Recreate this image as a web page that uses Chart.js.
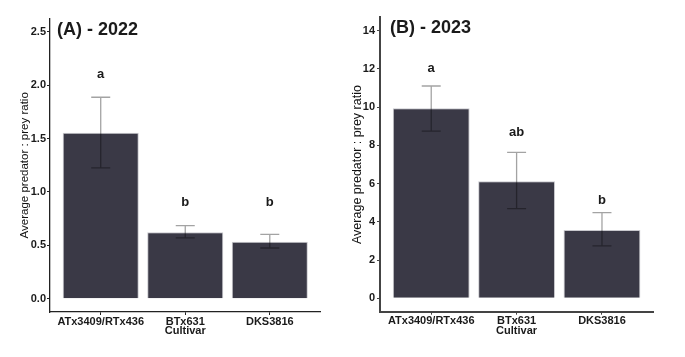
<!DOCTYPE html>
<html><head><meta charset="utf-8">
<script src="https://cdn.jsdelivr.net/npm/chart.js@4.4.0/dist/chart.umd.min.js"></script>
<style>
html,body{margin:0;padding:0;background:#fff;width:685px;height:357px;overflow:hidden}
canvas{position:absolute;top:0}
#cA{left:0}
#cB{left:340px}
</style></head>
<body>
<canvas id="cA" width="340" height="357"></canvas>
<canvas id="cB" width="345" height="357"></canvas>
<script>
const categories = ['ATx3409/RTx436', 'BTx631', 'DKS3816'];
const xTitle = 'Cultivar';
const yTitle = 'Average predator : prey ratio';

const titleA = '(A) - 2022';
const meanA = [1.555, 0.622, 0.534];
const lowA = [1.225, 0.569, 0.475];
const highA = [1.888, 0.684, 0.603];
const lettersA = ['a', 'b', 'b'];
const letterYA = [2.10, 0.90, 0.90];
const tickValsA = [0, 0.5, 1, 1.5, 2, 2.5];
const tickLabelsA = ['0.0', '0.5', '1.0', '1.5', '2.0', '2.5'];

const titleB = '(B) - 2023';
const meanB = [9.94, 6.12, 3.57];
const lowB = [8.75, 4.69, 2.74];
const highB = [11.11, 7.64, 4.48];
const lettersB = ['a', 'ab', 'b'];
const letterYB = [12.04, 8.67, 5.14];
const tickValsB = [0, 2, 4, 6, 8, 10, 12, 14];
const tickLabelsB = ['0', '2', '4', '6', '8', '10', '12', '14'];

const FONT = "'Liberation Sans', Arial, Helvetica, sans-serif";
const TXT = '#1a1a1a';

function makeChart(id, cfg) {
  const extras = {
    id: 'extras',
    afterDatasetsDraw(chart) {
      const {ctx, scales: {x, y}, chartArea} = chart;
      ctx.save();
      ctx.strokeStyle = 'rgba(0,0,0,0.36)';
      ctx.lineWidth = 1.3;
      cfg.low.forEach((lo, i) => {
        const px = x.getPixelForValue(i + 1);
        const yl = y.getPixelForValue(lo), yh = y.getPixelForValue(cfg.high[i]);
        const c = 9.5;
        ctx.beginPath();
        ctx.moveTo(px, yl); ctx.lineTo(px, yh);
        ctx.moveTo(px - c, yl); ctx.lineTo(px + c, yl);
        ctx.moveTo(px - c, yh); ctx.lineTo(px + c, yh);
        ctx.stroke();
      });
      ctx.fillStyle = TXT;
      ctx.font = 'bold 13px ' + FONT;
      ctx.textAlign = 'center';
      ctx.textBaseline = 'middle';
      cfg.letters.forEach((l, i) => {
        ctx.fillText(l, x.getPixelForValue(i + 1), y.getPixelForValue(cfg.letterY[i]));
      });
      ctx.font = 'bold 18px ' + FONT;
      ctx.textAlign = 'left';
      ctx.fillText(cfg.title, chartArea.left + cfg.titleDx, cfg.titleY);
      ctx.restore();
    }
  };
  return new Chart(document.getElementById(id), {
    type: 'bar',
    data: {
      datasets: [{
        data: cfg.mean.map((v, i) => ({x: i + 1, y: v})),
        backgroundColor: '#3a3946',
        borderColor: '#c9c9ce',
        borderWidth: 1,
        categoryPercentage: 0.9,
        barPercentage: 1
      }]
    },
    options: {
      responsive: false,
      animation: false,
      devicePixelRatio: 1,
      layout: {padding: {left: 0, right: cfg.padRight, top: cfg.padTop, bottom: 0}},
      plugins: {legend: {display: false}, tooltip: {enabled: false}, title: {display: false}},
      scales: {
        x: {
          type: 'linear',
          offset: false,
          min: 0.4, max: 3.6,
          afterBuildTicks: s => { s.ticks = [1, 2, 3].map(v => ({value: v})); },
          afterFit: s => { s.height = cfg.xHeight; },
          ticks: {
            callback: v => categories[v - 1],
            autoSkip: false, maxRotation: 0, minRotation: 0,
            padding: 0,
            color: TXT,
            font: {family: FONT, size: 11, weight: 'bold'}
          },
          grid: {offset: false, drawOnChartArea: false, drawTicks: true, tickLength: 3, color: cfg.axisColor, lineWidth: 1},
          border: {display: true, color: cfg.axisColor, width: cfg.axisWidth},
          title: {display: true, text: xTitle, color: TXT, font: {family: FONT, size: 11, weight: 'bold'}, padding: {top: 0, bottom: 19.4}}
        },
        y: {
          type: 'linear',
          min: cfg.yMin, max: cfg.yMax,
          afterBuildTicks: s => { s.ticks = cfg.tickVals.map(v => ({value: v})); },
          afterFit: s => { s.width = cfg.yWidth; },
          ticks: {
            callback: (v, i) => cfg.tickLabels[cfg.tickVals.indexOf(v)],
            padding: cfg.tickPad,
            color: TXT,
            font: {family: FONT, size: 11, weight: 'bold'}
          },
          grid: {drawOnChartArea: false, drawTicks: true, tickLength: 3, color: cfg.axisColor, lineWidth: 1},
          border: {display: true, color: cfg.axisColor, width: cfg.axisWidth},
          title: {display: true, text: yTitle, color: '#111', font: {family: FONT, size: cfg.yTitleSize}, padding: {top: cfg.yTitlePad, bottom: 0}}
        }
      }
    },
    plugins: [extras]
  });
}

makeChart('cA', {
  mean: meanA, low: lowA, high: highA, letters: lettersA, letterY: letterYA,
  tickVals: tickValsA, tickLabels: tickLabelsA, title: titleA,
  yMin: -0.125, yMax: 2.625,
  padRight: 19.5, padTop: 18.6, xHeight: 45, yWidth: 50, tickPad: 1,
  yTitleSize: 11.5, yTitlePad: 18.1, axisColor: '#222', axisWidth: 1.3,
  titleDx: 7, titleY: 30
});
makeChart('cB', {
  mean: meanB, low: lowB, high: highB, letters: lettersB, letterY: letterYB,
  tickVals: tickValsB, tickLabels: tickLabelsB, title: titleB,
  yMin: -0.7, yMax: 14.7,
  padRight: 31.8, padTop: 17.4, xHeight: 45.3, yWidth: 40, tickPad: 2,
  yTitleSize: 12.5, yTitlePad: 10, axisColor: '#444', axisWidth: 2,
  titleDx: 10, titleY: 28
});
</script>
</body></html>
